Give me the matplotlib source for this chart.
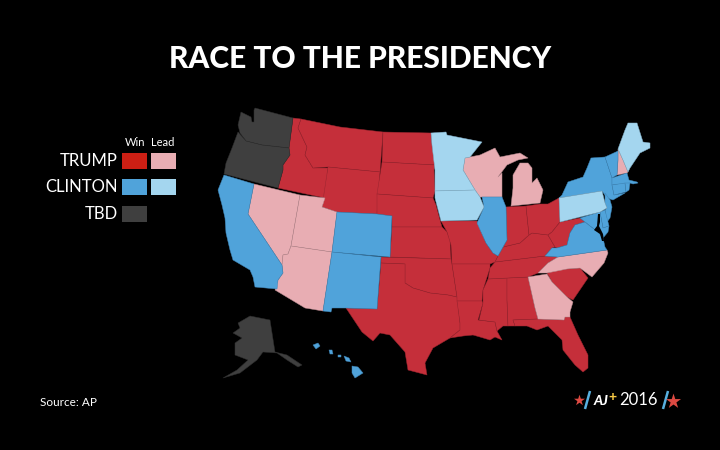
import matplotlib
matplotlib.use("Agg")
import matplotlib.pyplot as plt
from matplotlib.patches import Polygon, Rectangle

TITLE = "RACE TO THE PRESIDENCY"
SOURCE = "Source: AP"
LEGEND_ROWS = ["TRUMP", "CLINTON", "TBD"]
LEGEND_COLS = ["Win", "Lead"]

TRUMP_WIN = ["ID","MT","WY","ND","SD","NE","KS","OK","TX","MO","AR","LA","MS","AL","TN","KY","IN","OH","WV","SC","FL"]
TRUMP_LEAD = ["NV","UT","AZ","WI","MI","NH","GA","NC"]
CLINTON_WIN = ["CA","CO","NM","IL","NY","VT","MA","CT","RI","NJ","DE","MD","VA","HI"]
CLINTON_LEAD = ["MN","IA","PA","ME"]
TBD = ["WA","OR","AK"]

COLORS = {"tw":"#c52f3a","tl":"#e8adb3","cw":"#50a3da","cl":"#a4d6ef","tbd":"#3f3f3f"}
EDGES = {"tw":"#9c2530","tl":"#b98a90","cw":"#3f86b8","cl":"#84b2cb","tbd":"#2e2e2e"}
SWATCH = {"tw":"#cc1f14","tl":"#e8adb3","cw":"#50a3da","cl":"#a4d6ef","tbd":"#3f3f3f"}

# State outlines (map geometry, in picture pixels)
OUTLINES = {
"WA":[[(241,112),(251,117),(252,122),(254,122),(254,110),(255,108),(293,118),(289,148),(262,145),(246,141),(240,133),(238,125)]],
"OR":[[(238,132),(246,141),(262,145),(289,148),(290,155),(283,165),(283,170),(278,188),(224,174),(226,163),(232,148)]],
"ID":[[(293,118),(301,119),(298,128),(307,147),(305,155),(313,168),(328,168),(325,198),(278,188),(283,170),(283,165),(290,155),(289,148)]],
"MT":[[(301,119),(340,127),(383,132),(380,172),(328,167),(313,168),(305,155),(307,147),(298,128)]],
"WY":[[(328,167),(380,172),(377,214),(337,212),(322,207)]],
"ND":[[(383,132),(431,133),(432,145),(435,165),(382,162)]],
"SD":[[(382,162),(435,165),(434,170),(435,191),(433,198),(377,194)]],
"NE":[[(377,194),(433,198),(436,205),(440,220),(442,227),(392,227),(392,216),(377,214)]],
"CO":[[(337,212),(377,214),(392,216),(390,257),(332,252)]],
"UT":[[(300,195),(325,198),(322,207),(337,212),(332,252),(291,246)]],
"NV":[[(254,184),(300,195),(291,246),(288,254),(283,255),(282,265),(248,214)]],
"CA":[[(224,175),(254,184),(248,214),(282,265),(283,273),(278,280),(277,289),(255,287),(253,277),(250,270),(233,260),(230,250),(226,233),(225,218),(222,205),(218,190)]],
"AZ":[[(291,246),(332,252),(323,311),(305,308),(275,290),(278,280),(283,273),(282,265),(283,255),(288,254)]],
"NM":[[(332,252),(381,257),(377,309),(346,308),(332,308),(331,312),(323,311)]],
"TX":[[(381,263),(405,264),(405,283),(413,288),(430,293),(448,295),(457,297),(460,323),(460,330),(450,338),(433,348),(425,363),(427,375),(408,370),(405,352),(390,335),(380,333),(373,341),(362,332),(346,308),(377,309)]],
"OK":[[(381,257),(451,259),(452,264),(457,297),(448,295),(430,293),(413,288),(405,283),(405,264),(381,263)]],
"KS":[[(392,227),(442,227),(447,232),(450,240),(451,259),(390,257)]],
"MN":[[(431,133),(446,132),(447,135),(457,137),(482,142),(470,157),(465,158),(463,170),(475,190),(435,191),(435,170),(432,145)]],
"IA":[[(435,191),(475,190),(480,197),(484,207),(477,220),(441,221),(435,198)]],
"WI":[[(465,158),(470,157),(480,155),(495,148),(500,157),(520,153),(528,158),(518,160),(507,165),(498,177),(502,173),(502,197),(480,197),(475,190),(463,170)]],
"MI":[[(520,163),(528,163),(532,168),(532,183),(537,178),(543,190),(540,203),(511,206),(513,188),(513,175)]],
"IL":[[(482,197),(502,197),(506,207),(507,240),(503,247),(498,256),(493,253),(486,243),(477,223),(484,207)]],
"MO":[[(441,221),(477,221),(486,243),(493,253),(498,256),(495,262),(490,264),(452,264),(451,245),(447,232)]],
"IN":[[(506,207),(526,206),(529,235),(520,243),(503,247),(507,240)]],
"OH":[[(526,206),(540,204),(548,204),(559,198),(560,222),(552,232),(548,235),(532,233),(529,235)]],
"KY":[[(529,235),(532,233),(548,235),(555,247),(552,248),(545,256),(495,262),(498,256),(503,247),(520,243)]],
"WV":[[(560,222),(580,218),(585,222),(575,225),(570,233),(567,245),(557,248),(555,247),(548,235),(552,232)]],
"PA":[[(559,198),(602,191),(605,203),(607,208),(600,212),(560,222)]],
"NY":[[(562,195),(568,182),(583,177),(587,168),(591,158),(605,157),(612,178),(612,185),(614,195),(625,193),(613,200),(607,198),(602,191),(559,198)]],
"VT":[[(605,157),(618,151),(618,160),(617,175),(612,178)]],
"NH":[[(618,149),(623,160),(628,172),(627,173),(617,175),(618,160)]],
"ME":[[(618,149),(625,130),(628,123),(637,123),(643,142),(650,143),(650,148),(640,153),(630,168),(628,172),(623,160)]],
"MA":[[(612,178),(627,173),(629,180),(637,182),(638,183),(633,184),(630,183),(612,185)]],
"CT":[[(612,185),(625,183),(626,192),(614,195)]],
"RI":[[(625,183),(630,183),(629,190),(626,192)]],
"NJ":[[(605,193),(610,200),(612,207),(610,218),(607,222),(605,210),(607,208),(605,203)]],
"MD":[[(580,218),(600,212),(603,228),(609,226),(608,232),(603,238),(598,232),(590,226),(585,222)]],
"DE":[[(600,212),(605,210),(609,226),(603,228)]],
"VA":[[(545,256),(552,248),(557,248),(567,245),(570,233),(575,225),(585,222),(590,226),(598,232),(603,238),(605,247),(607,250),(558,257)]],
"NC":[[(607,250),(608,253),(604,263),(592,277),(580,268),(567,269),(557,271),(547,273),(538,273),(548,263),(558,257)]],
"SC":[[(547,273),(557,270),(567,269),(580,268),(588,278),(573,300),(567,297),(552,282)]],
"GA":[[(528,277),(547,274),(552,282),(567,297),(573,302),(570,312),(570,317),(565,317),(564,320),(538,319),(535,308)]],
"FL":[[(513,320),(538,319),(564,320),(565,317),(570,317),(578,335),(588,355),(588,368),(583,372),(575,365),(563,350),(562,340),(548,326),(537,330),(527,326),(515,326)]],
"AL":[[(507,278),(528,277),(535,308),(538,319),(513,320),(515,326),(508,326),(507,300)]],
"MS":[[(488,279),(507,278),(507,300),(508,326),(503,326),(497,331),(495,322),(479,320),(483,303),(483,290)]],
"TN":[[(495,262),(545,256),(558,257),(548,263),(538,273),(528,277),(488,279),(490,268)]],
"AR":[[(452,264),(490,264),(490,268),(483,290),(482,301),(457,301),(457,297)]],
"LA":[[(457,301),(482,301),(483,303),(478,320),(495,322),(497,331),(502,340),(495,337),(490,340),(480,337),(473,335),(463,336),(450,338),(460,330),(460,323)]],
"AK":[[(238,323),(250,316),(270,320),(275,352),(287,355),(302,365),(298,367),(287,360),(277,353),(263,352),(257,360),(240,373),(223,378),(237,370),(248,360),(235,355),(235,343),(242,338),(233,333),(240,328)]],
"HI":[[(313,345),(318,343),(320,346),(316,349)],[(329,350),(332,350),(333,354),(330,354)],[(338,355),(341,355),(341,357),(338,357)],[(344,356),(349,358),(351,362),(346,361)],[(352,366),(358,367),(363,373),(355,378),(352,373)]],
}
CHESAPEAKE = [(598,214),(600,214),(600,222),(599,226),(603,234),(604,241),(602,241),(600,234),(594,230),(597,226)]

GROUPS = {"tw":TRUMP_WIN,"tl":TRUMP_LEAD,"cw":CLINTON_WIN,"cl":CLINTON_LEAD,"tbd":TBD}

fig = plt.figure(figsize=(7.2,4.5), dpi=100, facecolor="black")
ax = fig.add_axes([0,0,1,1], facecolor="black")
ax.set_xlim(0,720); ax.set_ylim(450,0); ax.axis("off")

for key, states in GROUPS.items():
    for st in states:
        for ring in OUTLINES[st]:
            ax.add_patch(Polygon(ring, closed=True, facecolor=COLORS[key],
                                 edgecolor=EDGES[key], linewidth=0.35, joinstyle="round"))
ax.add_patch(Polygon(CHESAPEAKE, closed=True, facecolor="black", edgecolor="none"))

ax.text(360.5, 59, TITLE, color="white", ha="center", va="center",
        fontsize=21.5, family="Lato", weight="black")

for name, yc in zip(LEGEND_ROWS, [161, 187, 214]):
    ax.text(118, yc, name, color="white", ha="right", va="center", fontsize=12, family="Lato")
for name, xc in zip(LEGEND_COLS, [135, 163]):
    ax.text(xc, 142, name, color="white", ha="center", va="center", fontsize=8, family="Lato")
for key, x, y in [("tw",122,153),("tl",151,153),("cw",122,179),("cl",151,179),("tbd",122,206)]:
    ax.add_patch(Rectangle((x,y), 25, 16, facecolor=SWATCH[key], edgecolor="none"))

ax.text(40, 402, SOURCE, color="white", ha="left", va="center", fontsize=8.5, family="Lato")

# Logo
ax.scatter([579],[400], marker="*", s=70, color="#dd4a42", linewidths=0, zorder=2)
ax.plot([590,585],[391,409], color="#58b0e0", lw=1.8, solid_capstyle="butt")
ax.text(601, 401, "AJ", color="white", ha="center", va="center", fontsize=10, family="Lato",
        weight="black", style="italic")
ax.text(612, 397, "+", color="#f6c945", ha="center", va="center", fontsize=10, family="Lato", weight="black")
ax.text(638.5, 400, "2016", color="white", ha="center", va="center", fontsize=12, family="Lato")
ax.plot([668,663],[391,409], color="#58b0e0", lw=1.8, solid_capstyle="butt")
ax.scatter([673],[401], marker="*", s=130, color="#dd4a42", linewidths=0, zorder=2)

fig.savefig("out.png", dpi=100, facecolor="black")
